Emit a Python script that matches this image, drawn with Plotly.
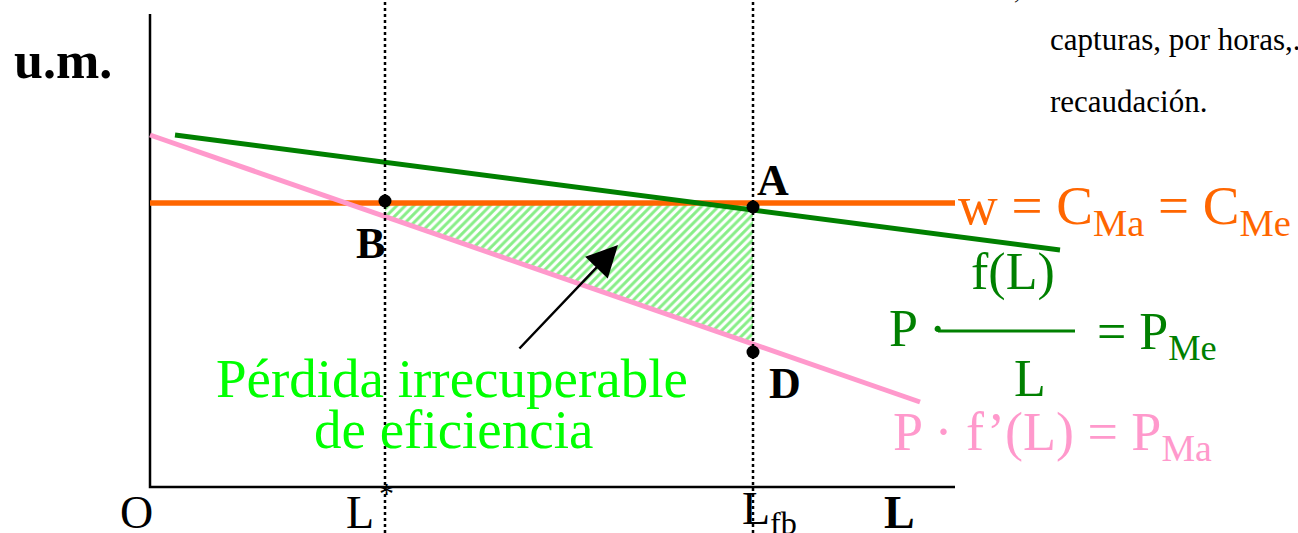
import numpy as np
import plotly.graph_objects as go

# ---- data (abstract units: L on x, u.m. on y) ----
L_star = 235
L_fb = 603
w_level = 284
axis_L_max = 805
axis_um_max = 473

pme_L = [25, 910]          # P * f(L)/L  (average product value)
pme_val = [352, 237]
pma_L = [0, 770]           # P * f'(L)  (marginal product value)
pma_val = [352, 85]
w_L = [0, 805]             # wage = CMa = CMe
w_val = [w_level, w_level]

point_names = ["B", "A", "D"]
point_L = [L_star, L_fb, L_fb]
point_val = [286, 280, 135]

SERIF = "Liberation Serif, Times New Roman, serif"
ORANGE = "#ff6600"
DGREEN = "#008000"
PINK = "#ff99cc"
LGREEN = "#00ff00"

fig = go.Figure()

# hatched dead-weight-loss area between w and P*f'(L) from L* to Lfb
pma_at_star = float(np.interp(L_star, pma_L, pma_val))
pma_at_fb = float(np.interp(L_fb, pma_L, pma_val))
fig.add_trace(go.Scatter(
    x=[L_star, L_fb, L_fb, L_star, L_star],
    y=[w_level, w_level, pma_at_fb, pma_at_star, w_level],
    mode="lines", fill="toself", line=dict(width=0, color="rgba(0,0,0,0)"),
    fillcolor="rgba(0,0,0,0)",
    fillpattern=dict(shape="/", fgcolor="#11dd11", bgcolor="rgba(255,255,255,0)",
                     size=6, solidity=0.5),
    hoverinfo="skip", showlegend=False))

# axes
fig.add_trace(go.Scatter(x=[0, 0, axis_L_max], y=[axis_um_max, 0, 0], mode="lines",
                         line=dict(color="black", width=2.5), hoverinfo="skip", showlegend=False))

# curves
fig.add_trace(go.Scatter(x=w_L, y=w_val, mode="lines", line=dict(color=ORANGE, width=5.5),
                         showlegend=False))
fig.add_trace(go.Scatter(x=pme_L, y=pme_val, mode="lines", line=dict(color=DGREEN, width=5),
                         showlegend=False))
fig.add_trace(go.Scatter(x=pma_L, y=pma_val, mode="lines", line=dict(color=PINK, width=5),
                         showlegend=False))

# dotted verticals
for Lv in [L_star, L_fb]:
    fig.add_trace(go.Scatter(x=[Lv, Lv], y=[-46, 487], mode="lines",
                             line=dict(color="black", width=2.5, dash="dot"),
                             hoverinfo="skip", showlegend=False))

# points
fig.add_trace(go.Scatter(x=point_L, y=point_val, mode="markers",
                         marker=dict(color="black", size=13), showlegend=False))

def ann(text, x, y, size, color="black", xanchor="center", yanchor="middle"):
    fig.add_annotation(text=text, x=x, y=y, xref="x", yref="y", showarrow=False,
                       xanchor=xanchor, yanchor=yanchor,
                       font=dict(family=SERIF, size=size, color=color))

ann("<b>u.m.</b>", -87, 427, 52)
ann("<b>A</b>", 623, 307, 44)
ann("<b>B</b>", 220, 244, 44)
ann("<b>D</b>", 635, 104, 44)
ann("O", -14, -25, 46)
ann("L", 210, -25, 46)
ann("*", 236, -5, 30)
ann("L<sub>fb</sub>", 590, -25, 46, xanchor="left")
ann("<b>L</b>", 749, -25, 46)

ann("w = C<sub>Ma</sub> = C<sub>Me</sub>", 806, 278, 55, color=ORANGE, xanchor="left")
ann("f(L)", 863, 215, 52, color=DGREEN)
ann("P ·", 737, 159, 52, color=DGREEN, xanchor="left")
ann("= P<sub>Me</sub>", 945, 152, 52, color=DGREEN, xanchor="left")
ann("L", 880, 109, 52, color=DGREEN)
ann("P · f’(L) = P<sub>Ma</sub>", 741, 52, 54, color=PINK, xanchor="left")
fig.add_shape(type="line", x0=788, x1=925, y0=156, y1=156, xref="x", yref="y",
              line=dict(color=DGREEN, width=3))

ann("Pérdida irrecuperable", 302, 109, 55, color=LGREEN)
ann("de eficiencia", 303, 58, 55, color=LGREEN)

ann("capturas, por horas,.", 898, 448, 31, xanchor="left")
ann("recaudación.", 898, 386, 31, xanchor="left")
ann(",", 867, 480, 26, yanchor="bottom")

# arrow
fig.add_annotation(x=468, y=242, xref="x", yref="y", ax=-100, ay=105,
                   showarrow=True, arrowhead=2, arrowsize=2.5, arrowwidth=2.5,
                   arrowcolor="black", text="")

fig.update_layout(
    width=1298, height=533, margin=dict(l=0, r=0, t=0, b=0),
    paper_bgcolor="white", plot_bgcolor="white",
    xaxis=dict(range=[-150, 1148], visible=False, fixedrange=True),
    yaxis=dict(range=[-46, 487], visible=False, fixedrange=True),
    showlegend=False,
)
fig.write_html("out.html", config={"displayModeBar": False},
               post_script="document.body.style.margin='0';")
